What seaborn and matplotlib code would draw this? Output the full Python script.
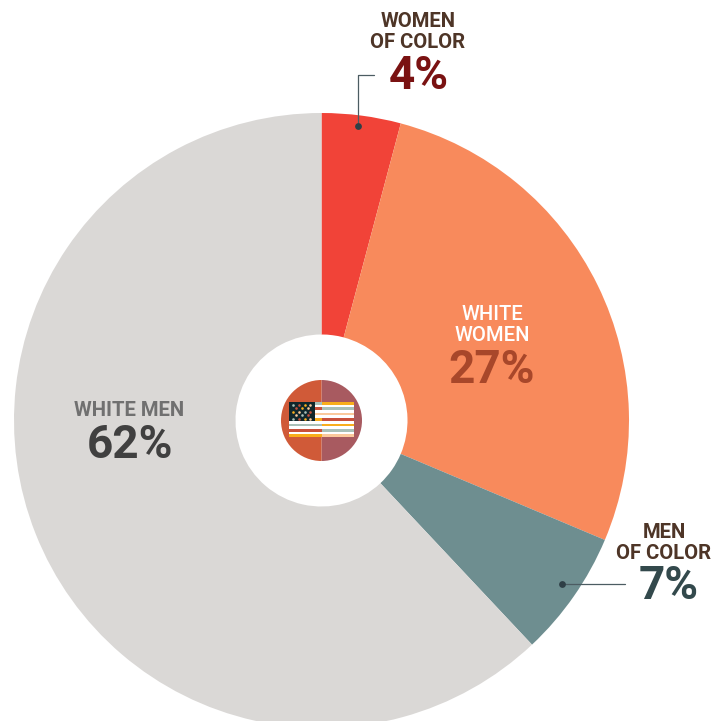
import seaborn as sns
import matplotlib.pyplot as plt
from matplotlib.patches import Rectangle

sns.set_style('white')
plt.rcParams['font.family'] = ['Roboto', 'DejaVu Sans']

groups = ['WOMEN\nOF COLOR', 'WHITE\nWOMEN', 'MEN\nOF COLOR', 'WHITE MEN']
shares = [4.15, 27.2, 6.65, 62]  # as drawn, the labels are rounded
share_labels = ['4%', '27%', '7%', '62%']
slice_colors = ['#F14338', '#F88A5C', '#6E8E90', '#DAD8D6']

W, H = 728, 721
CX, CY = 321.5, 420.5

# flag stripes, top to bottom
stripes_left = ['#A9C0B8', 'white', '#C9503A', 'white', '#FBC99C', 'white', '#F9AE1C',
                'white', '#A9C0B8', 'white', '#C9503A', 'white', '#F9AE1C']
stripes_right = ['#F9AE1C', 'white', '#A9C0B8', 'white', '#FBC99C', 'white', '#C9503A',
                 'white', '#F9AE1C', 'white', '#A9C0B8', 'white', '#FBC99C']


def yy(y):
    # picture y (from top) to axes y
    return H - y


fig = plt.figure(figsize=(W / 100, H / 100), dpi=100)
ax = fig.add_axes([0, 0, 1, 1])

ax.pie(shares, colors=slice_colors, startangle=90, counterclock=False,
       center=(CX, yy(CY)), radius=307.5, wedgeprops={'width': 221.5, 'linewidth': 0})

# small badge with the flag
ax.pie([1, 1], colors=['#A85A60', '#D05A38'], startangle=90, counterclock=False,
       center=(CX, yy(CY)), radius=40.5, wedgeprops={'linewidth': 0})

x0, x1, xmid = 289, 354, 321.5
top, bottom = 402, 437
h = (bottom - top) / 13
for i in range(13):
    y = yy(top + (i + 1) * h)
    ax.add_patch(Rectangle((x0, y), xmid - x0, h, color=stripes_left[i], lw=0, zorder=3))
    ax.add_patch(Rectangle((xmid, y), x1 - xmid, h, color=stripes_right[i], lw=0, zorder=3))
ax.add_patch(Rectangle((x0, yy(421)), 26, 19, color='#10272C', lw=0, zorder=4))

star_colors = ['#A9C0B8', '#C9503A', '#F9AE1C', '#FBC99C']
for row, sy in enumerate([404.5, 408, 411.5, 415, 418.5]):
    offset = 3 if row % 2 else 0
    count = 3 if row % 2 else 4
    for col in range(count):
        ax.scatter(x0 + 4 + offset + col * 5.8, yy(sy), marker='o', s=3.5, linewidths=0,
                   color=star_colors[(row + col) % 4], zorder=5)

# leader lines
line_color = '#4C5C62'
ax.plot([358, 358, 374], [yy(126), yy(75), yy(75)], color=line_color, lw=0.9, zorder=3)
ax.plot([562, 625], [yy(584), yy(584)], color=line_color, lw=0.9, zorder=3)
ax.scatter([358, 562], [yy(126), yy(584)], s=24, color='#2F3F46', linewidths=0, zorder=4)

label_size = 14.6
value_size = 33
ax.text(418, yy(32), groups[0], color='#4E3527', fontsize=label_size, fontweight='bold',
        ha='center', va='center', linespacing=1.17)
ax.text(419, yy(76), share_labels[0], color='#7A1212', fontsize=value_size, fontweight='bold',
        ha='center', va='center')
ax.text(492, yy(325), groups[1], color='white', fontsize=label_size, fontweight='medium',
        ha='center', va='center', linespacing=1.17)
ax.text(492, yy(370), share_labels[1], color='#A8472A', fontsize=value_size, fontweight='bold',
        ha='center', va='center')
ax.text(664, yy(543), groups[2], color='#4E3527', fontsize=label_size, fontweight='bold',
        ha='center', va='center', linespacing=1.17)
ax.text(669, yy(586), share_labels[2], color='#33494C', fontsize=value_size, fontweight='bold',
        ha='center', va='center')
ax.text(129, yy(410), groups[3], color='#707070', fontsize=label_size, fontweight='bold',
        ha='center', va='center')
ax.text(130, yy(445), share_labels[3], color='#404040', fontsize=value_size, fontweight='bold',
        ha='center', va='center')

ax.set_xlim(0, W)
ax.set_ylim(0, H)
ax.axis('off')
fig.savefig('out.png', dpi=100)
